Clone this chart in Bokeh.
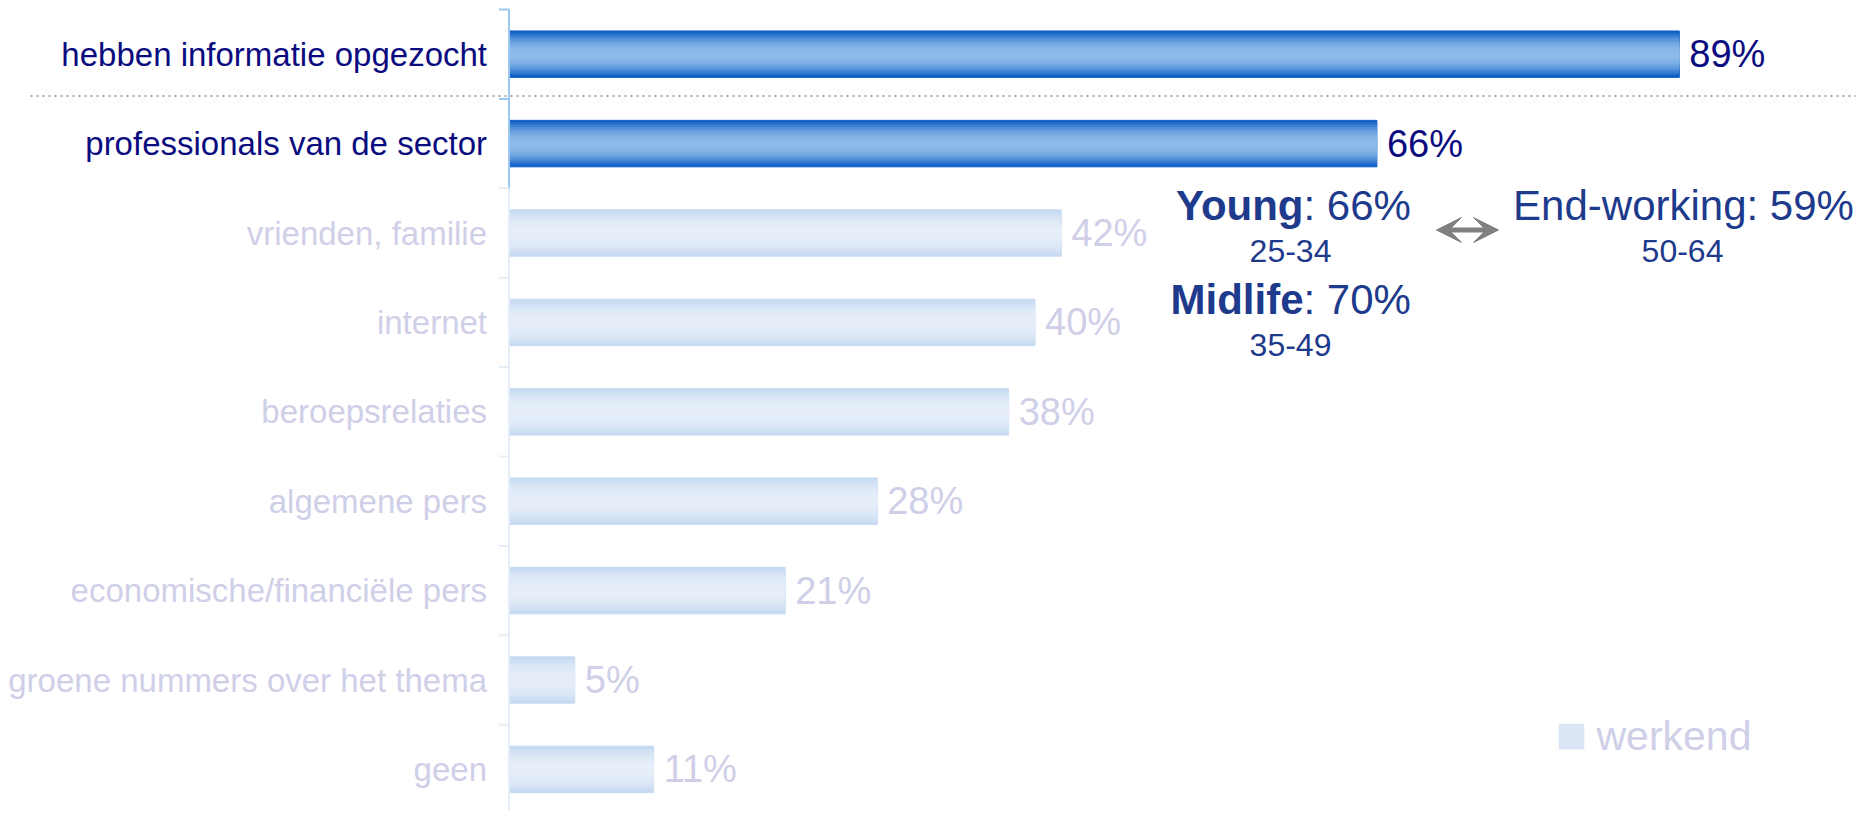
from bokeh.plotting import figure
from bokeh.models import ColumnDataSource, Range1d, Label, Arrow, VeeHead, Legend, LegendItem
from bokeh.core.properties import value
from bokeh.embed import file_html
from bokeh.resources import INLINE

# ---------------- data ----------------
categories = [
    "hebben informatie opgezocht",
    "professionals van de sector",
    "vrienden, familie",
    "internet",
    "beroepsrelaties",
    "algemene pers",
    "economische/financiële pers",
    "groene nummers over het thema",
    "geen",
]
values = [89, 66, 42, 40, 38, 28, 21, 5, 11]
highlighted = [True, True, False, False, False, False, False, False, False]
series_name = "werkend"

age_groups = ["Young", "Midlife", "End-working"]
age_values = [66, 70, 59]
age_ranges = ["25-34", "35-49", "50-64"]

# ---------------- layout helpers (pixel geometry) ----------------
PX0 = 508.5      # page x of value 0
PXU = 13.15      # pixels per percent
PY0 = 53.7       # page y of first category centre
PYU = 89.4       # pixels per category
FRAME_L, FRAME_R, FRAME_T, FRAME_B = 0, 1860, 0, 810


def X(px):
    return (px - PX0) / PXU


def Y(py):
    return (py - PY0) / PYU


FONT_NAME = "Liberation Sans"
FONT = value(FONT_NAME)

p = figure(
    width=FRAME_R - FRAME_L,
    height=FRAME_B - FRAME_T,
    x_range=Range1d(X(FRAME_L), X(FRAME_R)),
    y_range=Range1d(Y(FRAME_B), Y(FRAME_T)),
    output_backend="svg",
    toolbar_location=None,
    x_axis_location=None,
    y_axis_location=None,
    min_border=0,
)
p.grid.visible = False
p.outline_line_color = None
p.background_fill_color = "white"
p.border_fill_color = "white"

ys = list(range(len(categories)))
hi_idx = [i for i, h in enumerate(highlighted) if h]
lo_idx = [i for i, h in enumerate(highlighted) if not h]


def make_src(idx, label_color):
    return ColumnDataSource(dict(
        y=[ys[i] for i in idx],
        v=[values[i] for i in idx],
        cat=[categories[i] for i in idx],
        lab=[f"{values[i]}%" for i in idx],
        tc=[label_color] * len(idx),
    ))


src_hi = make_src(hi_idx, "#0B0B80")
src_lo = make_src(lo_idx, "#CFCFE8")


def hexrgb(h):
    h = h.lstrip("#")
    return tuple(int(h[k:k + 2], 16) for k in (0, 2, 4))


def lerp(c1, c2, t):
    a, b = hexrgb(c1), hexrgb(c2)
    return "#%02x%02x%02x" % tuple(round(a[k] + (b[k] - a[k]) * t) for k in range(3))


BAR_H = 0.52
N = 14


def gradient_bars(src, edge, centre, border):
    layers = []
    for k in range(N):
        t = k / (N - 1)
        te = 1 - (1 - t) ** 2
        r = p.hbar(
            y="y", right="v", left=0, height=BAR_H * (1 - k / N), source=src,
            fill_color=lerp(edge, centre, te),
            line_color=border if k == 0 else None,
            line_width=1,
        )
        layers.append(r)
    return layers


gradient_bars(src_hi, "#0A5CC4", "#8DBAE9", "#1565CC")
lo_layers = gradient_bars(src_lo, "#C5D9F1", "#E6EEF9", "#C8DBF2")

# axis line and ticks (drawn at category boundaries)
n_hi = len(hi_idx)
p.segment(x0=0, x1=0, y0=-0.5, y1=n_hi - 0.5, line_color="#9CC8F0", line_width=2)
p.segment(x0=0, x1=0, y0=n_hi - 0.5, y1=len(categories) - 0.5, line_color="#E3EEF9", line_width=2)
tick_y = [i - 0.5 for i in range(len(categories) + 1)]
tick_c = ["#9CC8F0" if ty < n_hi - 0.5 else "#E3EEF9" for ty in tick_y]
p.segment(x0=X(PX0 - 10), x1=0, y0="ty", y1="ty",
          source=ColumnDataSource(dict(ty=tick_y, c=tick_c)), line_color="c", line_width=2)

# dotted separator between total and detail
p.segment(x0=X(30), x1=X(1855), y0=Y(95.5), y1=Y(95.5),
          line_color="#A6A6A6", line_width=2, line_dash="2 4")

# category labels and value labels
for src in (src_hi, src_lo):
    p.text(x=0, y="y", text="cat", source=src, x_offset=-22,
           text_align="right", text_baseline="middle",
           text_font=FONT, text_font_size="33px", text_color="tc")
    p.text(x="v", y="y", text="lab", source=src, x_offset=10,
           text_align="left", text_baseline="middle",
           text_font=FONT, text_font_size="38px", text_color="tc")

# age-group call-outs (y = vertical centre of the text)
ANN = "#1E3A8C"
callouts = [
    (0, 1303, 204.5, 1290, 250.0),   # Young
    (1, 1303, 298.5, 1290, 344.0),   # Midlife
]
for gi, sx, cy, cx, ry in callouts:
    p.add_layout(Label(x=X(sx), y=Y(cy), text=age_groups[gi], text_align="right",
                       text_baseline="middle", text_font=FONT_NAME, text_font_style="bold",
                       text_font_size="42px", text_color=ANN))
    p.add_layout(Label(x=X(sx), y=Y(cy), text=f": {age_values[gi]}%", text_align="left",
                       text_baseline="middle", text_font=FONT_NAME,
                       text_font_size="42px", text_color=ANN))
    p.add_layout(Label(x=X(cx), y=Y(ry), text=age_ranges[gi], text_align="center",
                       text_baseline="middle", text_font=FONT_NAME,
                       text_font_size="32px", text_color=ANN))

p.add_layout(Label(x=X(1683), y=Y(204.5), text=f"{age_groups[2]}: {age_values[2]}%",
                   text_align="center", text_baseline="middle", text_font=FONT_NAME,
                   text_font_size="42px", text_color=ANN))
p.add_layout(Label(x=X(1682), y=Y(250.0), text=age_ranges[2], text_align="center",
                   text_baseline="middle", text_font=FONT_NAME,
                   text_font_size="32px", text_color=ANN))

p.add_layout(Arrow(
    x_start=X(1436), x_end=X(1498), y_start=Y(229.5), y_end=Y(229.5),
    start=VeeHead(size=25, fill_color="#808080", line_color="#808080"),
    end=VeeHead(size=25, fill_color="#808080", line_color="#808080"),
    line_color="#808080", line_width=5,
))

legend = Legend(
    items=[LegendItem(label=series_name, renderers=[lo_layers[5]])],
    location=(1554.5 - FRAME_L, FRAME_B - 759.5),
    padding=0, margin=0, spacing=0,
    glyph_width=32, glyph_height=32, label_standoff=10,
    label_text_font=FONT_NAME, label_text_font_size="41px",
    label_text_color="#CFCFE8",
    border_line_color=None, background_fill_alpha=0,
)
p.add_layout(legend)

open("out.html", "w").write(file_html(p, INLINE))
